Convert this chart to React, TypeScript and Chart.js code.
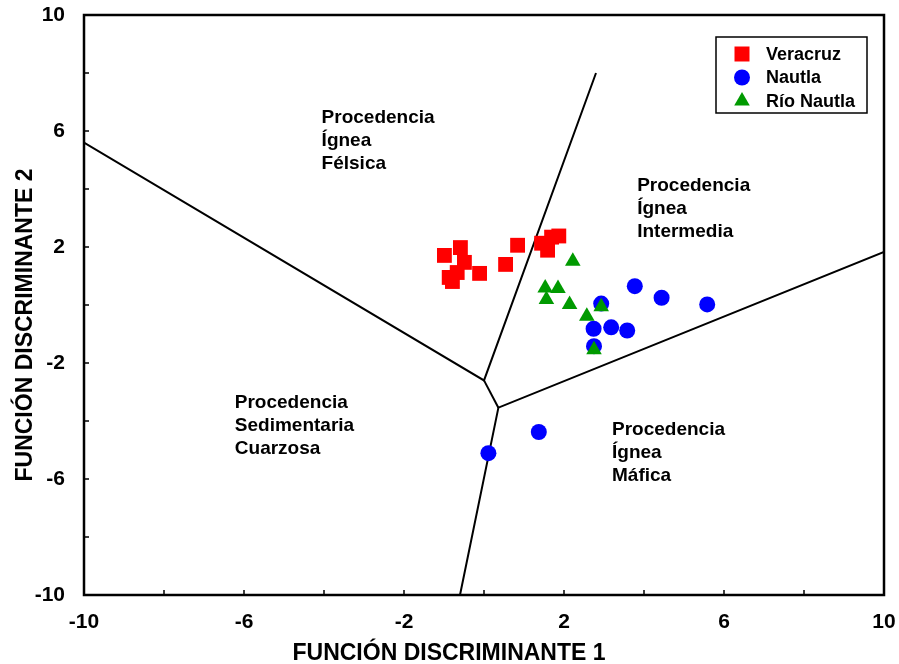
import React, { useEffect, useRef } from "react";
import { Chart, registerables } from "chart.js";

Chart.register(...registerables);

// ---- data ----
const veracruz: [number, number][] = [
  [-0.99, 1.71], [-0.59, 1.98], [-0.49, 1.47], [-0.87, 0.95], [-0.79, 0.81],
  [-0.67, 1.12], [-0.11, 1.09], [0.54, 1.4], [0.84, 2.06], [1.44, 2.13],
  [1.59, 1.89], [1.69, 2.34], [1.87, 2.38],
];
const nautla: [number, number][] = [
  [2.93, 0.05], [3.77, 0.65], [4.44, 0.25], [5.58, 0.02], [2.74, -0.82],
  [3.18, -0.77], [3.58, -0.88], [2.75, -1.42], [0.11, -5.11], [1.37, -4.38],
];
const rioNautla: [number, number][] = [
  [2.22, 1.51], [1.53, 0.59], [1.85, 0.57], [1.56, 0.19], [2.14, 0.02],
  [2.57, -0.39], [2.93, -0.06], [2.75, -1.54],
];

// field boundaries
const boundaryA: [number, number][] = [[-10, 5.6], [0, -2.6], [2.8, 8.0]];
const boundaryB: [number, number][] = [[0, -2.6], [0.36, -3.54]];
const boundaryC: [number, number][] = [[10, 1.83], [0.36, -3.54], [-0.6, -10]];

const tickLabels = [-10, -6, -2, 2, 6, 10];
const minorTicks = [-8, -6, -4, -2, 0, 2, 4, 6, 8];

const regionLabels: { lines: string[]; x: number; y: number }[] = [
  { lines: ["Procedencia", "Ígnea", "Félsica"], x: -4.06, y: 6.27 },
  { lines: ["Procedencia", "Ígnea", "Intermedia"], x: 3.83, y: 3.93 },
  { lines: ["Procedencia", "Sedimentaria", "Cuarzosa"], x: -6.23, y: -3.56 },
  { lines: ["Procedencia", "Ígnea", "Máfica"], x: 3.2, y: -4.48 },
];

const xTitle = "FUNCIÓN DISCRIMINANTE 1";
const yTitle = "FUNCIÓN DISCRIMINANTE 2";

const RED = "#ff0000";
const BLUE = "#0000ff";
const GREEN = "#009a00";
const FONT = '"Liberation Sans", Arial, Helvetica, sans-serif';

const toPts = (a: [number, number][]) => a.map(([x, y]) => ({ x, y }));

const overlayPlugin = {
  id: "overlay",
  afterDraw(chart: any) {
    const { ctx, chartArea: a, scales } = chart;
    const xs = scales.x;
    const ys = scales.y;
    ctx.save();
    // frame
    ctx.strokeStyle = "#000";
    ctx.lineWidth = 2.5;
    ctx.strokeRect(a.left, a.top, a.right - a.left, a.bottom - a.top);
    // inner ticks
    ctx.lineWidth = 1.5;
    ctx.beginPath();
    for (const v of minorTicks) {
      const px = xs.getPixelForValue(v);
      ctx.moveTo(px, a.bottom);
      ctx.lineTo(px, a.bottom - 5);
      const py = ys.getPixelForValue(v);
      ctx.moveTo(a.left, py);
      ctx.lineTo(a.left + 5, py);
    }
    ctx.stroke();

    // region labels
    ctx.fillStyle = "#000";
    ctx.font = `bold 19px ${FONT}`;
    ctx.textAlign = "left";
    ctx.textBaseline = "alphabetic";
    for (const r of regionLabels) {
      const px = xs.getPixelForValue(r.x);
      const py = ys.getPixelForValue(r.y);
      r.lines.forEach((t, i) => ctx.fillText(t, px, py + i * 23));
    }

    // axis titles
    ctx.font = `bold 23px ${FONT}`;
    ctx.textAlign = "center";
    ctx.fillText(xTitle, 449, 660);
    ctx.save();
    ctx.translate(32, 325);
    ctx.rotate(-Math.PI / 2);
    ctx.fillText(yTitle, 0, 0);
    ctx.restore();

    // legend
    const bx = a.right - 168;
    const by = a.top + 22;
    const bw = 151;
    const bh = 76;
    ctx.fillStyle = "#fff";
    ctx.fillRect(bx, by, bw, bh);
    ctx.strokeStyle = "#000";
    ctx.lineWidth = 1.5;
    ctx.strokeRect(bx, by, bw, bh);
    const items = chart.data.datasets.filter((d: any) => d.isSeries);
    items.sort((p: any, q: any) => p.legendIndex - q.legendIndex);
    ctx.font = `bold 18px ${FONT}`;
    ctx.textAlign = "left";
    ctx.textBaseline = "middle";
    items.forEach((d: any, i: number) => {
      const cy = by + 17 + i * 23.5;
      const cx = bx + 26;
      ctx.fillStyle = d.backgroundColor;
      ctx.beginPath();
      if (d.pointStyle === "rect") {
        ctx.rect(cx - 7.5, cy - 7.5, 15, 15);
      } else if (d.pointStyle === "circle") {
        ctx.arc(cx, cy, 8, 0, Math.PI * 2);
      } else {
        const r = 9;
        ctx.moveTo(cx, cy - r);
        ctx.lineTo(cx + r * 0.866, cy + r * 0.5);
        ctx.lineTo(cx - r * 0.866, cy + r * 0.5);
        ctx.closePath();
      }
      ctx.fill();
      ctx.fillStyle = "#000";
      ctx.fillText(d.label, bx + 50, cy + 1);
    });
    ctx.restore();
  },
};

export default function App() {
  const ref = useRef<HTMLCanvasElement>(null);
  useEffect(() => {
    if (!ref.current) return;
    const lineDs = (data: [number, number][]) => ({
      type: "line" as const,
      label: "",
      data: toPts(data),
      borderColor: "#000",
      borderWidth: 2,
      pointRadius: 0,
      showLine: true,
      fill: false,
      tension: 0,
      order: 10,
    });
    const chart = new Chart(ref.current, {
      type: "scatter",
      data: {
        datasets: [
          lineDs(boundaryA),
          lineDs(boundaryB),
          lineDs(boundaryC),
          {
            label: "Veracruz",
            data: toPts(veracruz),
            pointStyle: "rect",
            pointRadius: 10.5,
            backgroundColor: RED,
            borderColor: RED,
            borderWidth: 0,
            order: 3,
            isSeries: true,
            legendIndex: 0,
          } as any,
          {
            label: "Nautla",
            data: toPts(nautla),
            pointStyle: "circle",
            pointRadius: 8,
            backgroundColor: BLUE,
            borderColor: BLUE,
            borderWidth: 0,
            order: 2,
            isSeries: true,
            legendIndex: 1,
          } as any,
          {
            label: "Río Nautla",
            data: toPts(rioNautla),
            pointStyle: "triangle",
            pointRadius: 9,
            backgroundColor: GREEN,
            borderColor: GREEN,
            borderWidth: 0,
            order: 1,
            isSeries: true,
            legendIndex: 2,
          } as any,
        ],
      },
      options: {
        animation: false,
        responsive: false,
        maintainAspectRatio: false,
        layout: { padding: { top: 15, right: 15, left: 0, bottom: 0 } },
        plugins: { legend: { display: false }, tooltip: { enabled: false } },
        scales: {
          x: {
            type: "linear",
            min: -10,
            max: 10,
            afterBuildTicks: (s: any) => {
              s.ticks = tickLabels.map((v) => ({ value: v }));
            },
            afterFit: (s: any) => {
              s.height = 69;
              s.paddingLeft = 0;
              s.paddingRight = 0;
            },
            grid: { display: false },
            border: { display: false },
            ticks: {
              padding: 7,
              color: "#000",
              font: { family: FONT, size: 21, weight: "bold" },
              maxRotation: 0,
              autoSkip: false,
            },
          },
          y: {
            type: "linear",
            min: -10,
            max: 10,
            afterBuildTicks: (s: any) => {
              s.ticks = tickLabels.map((v) => ({ value: v }));
            },
            afterFit: (s: any) => {
              s.width = 84;
              s.paddingTop = 0;
              s.paddingBottom = 0;
            },
            grid: { display: false },
            border: { display: false },
            ticks: {
              padding: 11,
              color: "#000",
              font: { family: FONT, size: 21, weight: "bold" },
              autoSkip: false,
            },
          },
        },
      },
      plugins: [overlayPlugin],
    } as any);
    return () => chart.destroy();
  }, []);
  return (
    <div style={{ position: "fixed", left: 0, top: 0, width: 899, height: 664, background: "#fff" }}>
      <canvas ref={ref} width={899} height={664} style={{ width: 899, height: 664, display: "block" }} />
    </div>
  );
}
